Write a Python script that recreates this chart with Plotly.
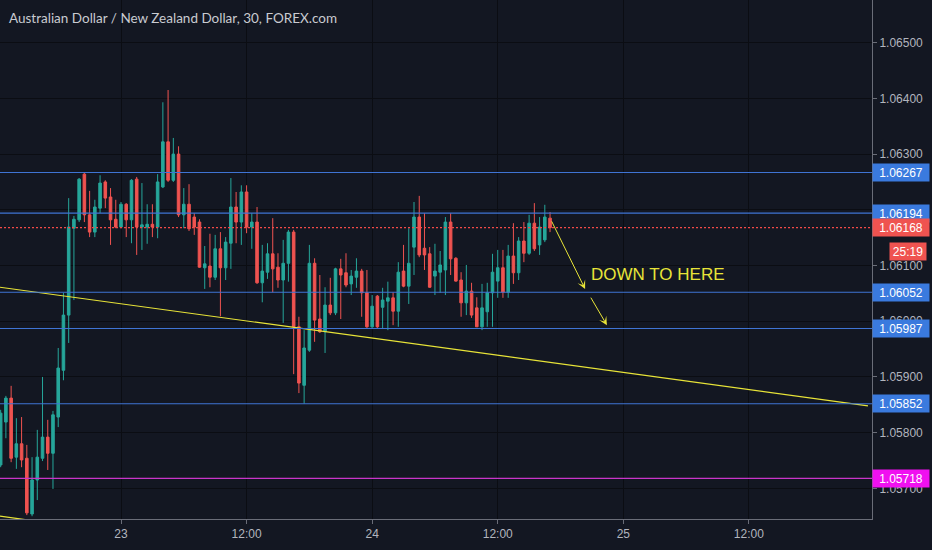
import pandas as pd
import plotly.graph_objects as go

# AUD/NZD, 30 min bars
bar_start = "2019-07-22 12:30"

opens = [1.05742, 1.05819, 1.05862, 1.05756, 1.05780, 1.05754, 1.05654, 1.05715, 1.05754, 1.05792,
         1.05763, 1.05828, 1.05912, 1.06011, 1.06167, 1.06182, 1.06264, 1.06191, 1.06160, 1.06203,
         1.06250, 1.06223, 1.06183, 1.06169, 1.06210, 1.06182, 1.06255, 1.06169, 1.06169, 1.06174,
         1.06169, 1.06241, 1.06322, 1.06253, 1.06300, 1.06191, 1.06210, 1.06187, 1.06178, 1.06096,
         1.06099, 1.06079, 1.06130, 1.06096, 1.06140, 1.06205, 1.06178, 1.06232, 1.06169, 1.06178,
         1.06069, 1.06088, 1.06121, 1.06097, 1.06074, 1.06104, 1.06160, 1.05990, 1.05885, 1.05948,
         1.06104, 1.06004, 1.05981, 1.06029, 1.06015, 1.06094, 1.06087, 1.06067, 1.06079, 1.06090,
         1.06051, 1.05990, 1.06045, 1.06025, 1.06036, 1.06042, 1.06018, 1.06090, 1.06063, 1.06133,
         1.06187, 1.06131, 1.06121, 1.06081, 1.06088, 1.06092, 1.06178, 1.06113, 1.06074, 1.06033,
         1.06054, 1.06024, 1.05990, 1.06017, 1.06051, 1.06072, 1.06096, 1.06052, 1.06117, 1.06087,
         1.06144, 1.06122, 1.06176, 1.06137, 1.06146, 1.06185]
highs = [1.05841, 1.05866, 1.05884, 1.05826, 1.05828, 1.05778, 1.05756, 1.05805, 1.05900, 1.05823,
         1.05839, 1.05952, 1.06051, 1.06221, 1.06189, 1.06257, 1.06266, 1.06234, 1.06218, 1.06262,
         1.06253, 1.06239, 1.06218, 1.06214, 1.06212, 1.06255, 1.06259, 1.06248, 1.06210, 1.06210,
         1.06264, 1.06393, 1.06415, 1.06329, 1.06314, 1.06239, 1.06246, 1.06194, 1.06183, 1.06135,
         1.06157, 1.06155, 1.06160, 1.06151, 1.06257, 1.06232, 1.06244, 1.06244, 1.06194, 1.06205,
         1.06137, 1.06140, 1.06185, 1.06122, 1.06146, 1.06164, 1.06164, 1.06008, 1.05984, 1.06137,
         1.06113, 1.06083, 1.06061, 1.06078, 1.06096, 1.06112, 1.06122, 1.06092, 1.06113, 1.06094,
         1.06092, 1.06047, 1.06047, 1.06060, 1.06071, 1.06052, 1.06106, 1.06137, 1.06167, 1.06214,
         1.06225, 1.06194, 1.06133, 1.06139, 1.06126, 1.06187, 1.06194, 1.06115, 1.06088, 1.06101,
         1.06069, 1.06043, 1.06067, 1.06069, 1.06121, 1.06128, 1.06128, 1.06137, 1.06176, 1.06151,
         1.06178, 1.06191, 1.06212, 1.06187, 1.06209, 1.06196]
lows = [1.05738, 1.05790, 1.05747, 1.05735, 1.05738, 1.05652, 1.05650, 1.05679, 1.05749, 1.05733,
        1.05699, 1.05810, 1.05894, 1.05961, 1.06038, 1.06178, 1.06178, 1.06151, 1.06151, 1.06194,
        1.06203, 1.06137, 1.06167, 1.06167, 1.06151, 1.06140, 1.06119, 1.06128, 1.06139, 1.06151,
        1.06149, 1.06239, 1.06250, 1.06250, 1.06187, 1.06167, 1.06162, 1.06155, 1.06096, 1.06058,
        1.06061, 1.06074, 1.06009, 1.06074, 1.06094, 1.06140, 1.06137, 1.06158, 1.06130, 1.06067,
        1.06034, 1.06076, 1.06052, 1.06060, 1.05997, 1.06071, 1.05905, 1.05871, 1.05852, 1.05945,
        1.05963, 1.05979, 1.05943, 1.06011, 1.06011, 1.06004, 1.06061, 1.06047, 1.06060, 1.06008,
        1.05988, 1.05988, 1.05988, 1.05986, 1.05984, 1.05993, 1.05990, 1.06061, 1.06031, 1.06083,
        1.06115, 1.06092, 1.06060, 1.06047, 1.06051, 1.06047, 1.06083, 1.06071, 1.06008, 1.06011,
        1.06006, 1.05990, 1.05984, 1.05990, 1.05990, 1.06042, 1.06042, 1.06042, 1.06067, 1.06074,
        1.06106, 1.06119, 1.06126, 1.06119, 1.06142, 1.06160]
closes = [1.05835, 1.05862, 1.05754, 1.05780, 1.05751, 1.05656, 1.05715, 1.05756, 1.05792, 1.05763,
          1.05832, 1.05916, 1.06011, 1.06169, 1.06183, 1.06255, 1.06191, 1.06160, 1.06205, 1.06248,
          1.06221, 1.06182, 1.06169, 1.06210, 1.06182, 1.06253, 1.06169, 1.06173, 1.06174, 1.06169,
          1.06250, 1.06322, 1.06253, 1.06300, 1.06191, 1.06210, 1.06166, 1.06169, 1.06097, 1.06103,
          1.06079, 1.06130, 1.06096, 1.06142, 1.06205, 1.06178, 1.06232, 1.06169, 1.06178, 1.06069,
          1.06090, 1.06121, 1.06094, 1.06074, 1.06104, 1.06160, 1.05990, 1.05889, 1.05952, 1.06104,
          1.06002, 1.05981, 1.06029, 1.06015, 1.06094, 1.06083, 1.06065, 1.06081, 1.06090, 1.06051,
          1.05990, 1.06027, 1.05990, 1.06038, 1.06042, 1.06018, 1.06088, 1.06063, 1.06104, 1.06187,
          1.06119, 1.06119, 1.06061, 1.06090, 1.06101, 1.06178, 1.06112, 1.06072, 1.06033, 1.06054,
          1.06011, 1.05990, 1.06024, 1.06051, 1.06088, 1.06096, 1.06052, 1.06117, 1.06087, 1.06144,
          1.06122, 1.06176, 1.06130, 1.06169, 1.06187, 1.06168]

# drawn levels
blue_levels = [1.06267, 1.06194, 1.06052, 1.05987, 1.05852]
magenta_level = 1.05718
countdown = "25:19"

# yellow trend lines (two points each)
trend_x = ["2019-07-22 12:26", "2019-07-25 23:23"]
trend_y = [1.06061, 1.05848]
trend2_x = ["2019-07-22 12:26", "2019-07-22 16:00"]
trend2_y = [1.05650, 1.05641]

# drawn arrows: (tail time, tail price, head time, head price)
arrows = [("2019-07-24 17:05", 1.06182, "2019-07-24 20:21", 1.06058),
          ("2019-07-24 20:49", 1.06045, "2019-07-24 22:26", 1.05993)]
note_x, note_y = "2019-07-24 20:44", 1.06083

tick_times = ["2019-07-23 00:00", "2019-07-23 12:00", "2019-07-24 00:00",
              "2019-07-24 12:00", "2019-07-25 00:00", "2019-07-25 12:00"]
tick_text = ["23", "12:00", "24", "12:00", "25", "12:00"]
x_range = ["2019-07-22 12:26:12", "2019-07-25 23:46"]
y_range = [1.05645, 1.065766]

BG = "#131722"
GRID = "#0b0d13"
AXIS = "#6a6d78"
TXT = "#b2b5be"
UP = "#26a69a"
DOWN = "#ef5350"
BLUE_LINE = "#3f74d4"
BLUE_LBL = "#3a7ade"
YELLOW = "#e8e438"

times = pd.date_range(bar_start, periods=len(opens), freq="30min")

fig = go.Figure()
fig.add_trace(go.Candlestick(
    x=times, open=opens, high=highs, low=lows, close=closes,
    increasing=dict(line=dict(color=UP, width=1), fillcolor=UP),
    decreasing=dict(line=dict(color=DOWN, width=1), fillcolor=DOWN),
    whiskerwidth=0, hoverinfo="skip", showlegend=False,
))
fig.add_trace(go.Scatter(x=trend_x, y=trend_y, mode="lines",
                         line=dict(color=YELLOW, width=1.2), showlegend=False, hoverinfo="skip"))
fig.add_trace(go.Scatter(x=trend2_x, y=trend2_y, mode="lines",
                         line=dict(color=YELLOW, width=1.2), showlegend=False, hoverinfo="skip"))

shapes = []
for lvl in blue_levels:
    shapes.append(dict(type="line", xref="paper", x0=0, x1=1, yref="y", y0=lvl, y1=lvl,
                       line=dict(color=BLUE_LINE, width=1.1)))
shapes.append(dict(type="line", xref="paper", x0=0, x1=1, yref="y", y0=magenta_level, y1=magenta_level,
                   line=dict(color="#c935c9", width=1.2)))
shapes.append(dict(type="line", xref="paper", x0=0, x1=1, yref="y", y0=closes[-1], y1=closes[-1],
                   line=dict(color="#f24a47", width=1.3, dash="2px,2px")))

annotations = [dict(text="Australian Dollar / New Zealand Dollar, 30, FOREX.com",
                    xref="paper", yref="paper", x=0, y=1, xanchor="left", yanchor="top",
                    xshift=7, yshift=-8, showarrow=False,
                    font=dict(family="Lato", size=13.5, color="#c9cbd1"))]


def price_label(y, bg, text=None, yshift=0, xshift=0, width=52):
    return dict(text=text or f"{y:.5f}", xref="paper", yref="y", x=1, y=y,
                xanchor="left", yanchor="middle", xshift=xshift, yshift=yshift,
                showarrow=False, bgcolor=bg, borderpad=2, width=width, height=13,
                font=dict(family="Liberation Sans", size=12, color="white"))


for lvl in blue_levels:
    annotations.append(price_label(lvl, BLUE_LBL))
annotations.append(price_label(magenta_level, "#f010f0"))
annotations.append(price_label(closes[-1], DOWN))
annotations.append(price_label(closes[-1], DOWN, text=countdown, yshift=-24, xshift=17, width=32))

for tx, ty, hx, hy in arrows:
    annotations.append(dict(x=hx, y=hy, ax=tx, ay=ty, xref="x", yref="y", axref="x", ayref="y",
                            text="", showarrow=True, arrowhead=3, arrowsize=1.4, arrowwidth=1,
                            arrowcolor=YELLOW))
annotations.append(dict(text="DOWN TO HERE", x=note_x, y=note_y, xref="x", yref="y",
                        xanchor="left", yanchor="middle", showarrow=False,
                        font=dict(family="Liberation Sans", size=17, color=YELLOW)))

fig.update_layout(
    width=932, height=550,
    margin=dict(l=0, r=60, t=0, b=31),
    paper_bgcolor=BG, plot_bgcolor=BG,
    shapes=shapes, annotations=annotations,
    font=dict(family="Liberation Sans", size=12, color=TXT),
    xaxis=dict(type="date", range=x_range, rangeslider=dict(visible=False),
               tickvals=tick_times, ticktext=tick_text, ticks="outside", ticklen=4,
               tickcolor=AXIS, showline=True, linecolor=AXIS, linewidth=1,
               showgrid=True, gridcolor=GRID, gridwidth=1, zeroline=False,
               tickfont=dict(size=12, color=TXT)),
    yaxis=dict(side="right", range=y_range, dtick=0.001, tick0=1.0, tickformat=".5f",
               ticks="outside", ticklen=4, tickcolor=AXIS, showline=True, linecolor=AXIS,
               linewidth=1, showgrid=True, gridcolor=GRID, gridwidth=1, zeroline=False,
               tickfont=dict(size=12, color=TXT)),
    hovermode=False,
)

# the page's default body margin would shift the fixed-size figure by 8px
fig.write_html("out.html", config={"displayModeBar": False},
               post_script="document.body.style.margin='0px';")
